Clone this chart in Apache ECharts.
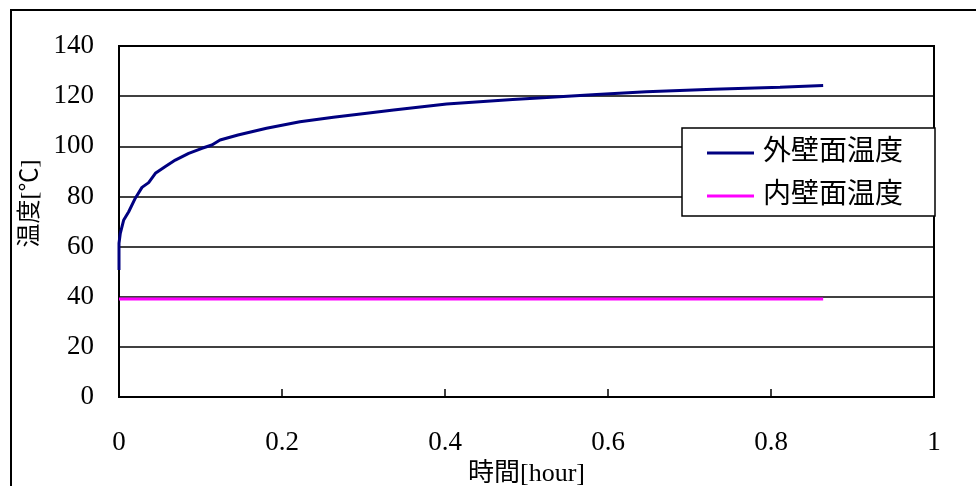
<!DOCTYPE html>
<html><head><meta charset="utf-8">
<script src="https://cdn.jsdelivr.net/npm/echarts@6/dist/echarts.min.js"></script>
<style>html,body{margin:0;padding:0;background:#fff}#c{width:976px;height:486px}</style>
</head><body><div id="c"></div>
<script>
var timeHours = [0, 0.0, 0.0016, 0.0058, 0.0119, 0.02, 0.0282, 0.0364, 0.0446, 0.0569, 0.0691, 0.0855, 0.1018, 0.114, 0.124, 0.146, 0.181, 0.222, 0.263, 0.304, 0.337, 0.402, 0.483, 0.525, 0.586, 0.647, 0.729, 0.811, 0.864];
var outerWall = [50.7, 61.3, 65.3, 70.6, 73.9, 79.3, 83.6, 85.5, 89.2, 91.9, 94.5, 97.2, 99.2, 100.5, 102.5, 104.5, 107.2, 109.8, 111.6, 113.2, 114.5, 116.9, 118.7, 119.5, 120.7, 121.8, 122.7, 123.5, 124.2];
var innerTime = [0, 0.864];
var innerWall = [39.1, 39.1];
var seriesNames = ['外壁面温度', '内壁面温度'];
var xTitle = '時間[hour]';
var yTitle = '温度[℃]';

var fam = '"Liberation Serif", "Noto Sans CJK JP", serif';
var chart = echarts.init(document.getElementById('c'));
chart.setOption({
  animation: false,
  backgroundColor: '#fff',
  textStyle: {fontFamily: fam},
  graphic: [{type: 'rect', shape: {x: 11, y: 10, width: 1100, height: 1100}, style: {fill: 'none', stroke: '#000', lineWidth: 2}, z: -1}],
  grid: {left: 119, top: 46, right: 42, bottom: 89, containLabel: false, outerBoundsMode: 'none', show: true, borderColor: '#000', borderWidth: 2, backgroundColor: 'transparent'},
  xAxis: {
    type: 'value', min: 0, max: 1, interval: 0.2,
    name: xTitle, nameLocation: 'middle', nameGap: 63,
    nameTextStyle: {color: '#000', fontSize: 26, fontFamily: fam},
    axisLine: {show: true, lineStyle: {color: '#000', width: 2}},
    axisTick: {show: true, inside: true, length: 8, lineStyle: {color: '#000', width: 1.5}},
    axisLabel: {color: '#000', fontSize: 27, margin: 32, fontFamily: fam},
    splitLine: {show: false}
  },
  yAxis: {
    type: 'value', min: 0, max: 140, interval: 20,
    name: yTitle, nameLocation: 'middle', nameGap: 76,
    nameTextStyle: {color: '#000', fontSize: 24, fontFamily: fam, padding: [0, 0, 0, 36]},
    axisLine: {show: true, lineStyle: {color: '#000', width: 2}},
    axisTick: {show: false},
    axisLabel: {color: '#000', fontSize: 27, margin: 25, fontFamily: fam, padding: [5, 0, 0, 0]},
    splitLine: {show: true, lineStyle: {color: '#000', width: 1.5}}
  },
  legend: {
    show: true, orient: 'vertical', left: 682, top: 128,
    backgroundColor: '#fff', borderColor: '#000', borderWidth: 1.5,
    padding: [10, 32, 5, 25], itemGap: 13, itemWidth: 47, itemHeight: 3,
    textStyle: {color: '#000', fontSize: 28, lineHeight: 30, fontFamily: fam, padding: [0, 0, 0, 4]},
    data: [{name: seriesNames[0], icon: 'rect'}, {name: seriesNames[1], icon: 'rect'}]
  },
  series: [
    {name: seriesNames[0], type: 'line', showSymbol: false, color: '#000080', lineStyle: {color: '#000080', width: 3},
     data: timeHours.map(function (t, i) { return [t, outerWall[i]]; })},
    {name: seriesNames[1], type: 'line', showSymbol: false, color: '#FF00FF', lineStyle: {color: '#FF00FF', width: 3},
     data: innerTime.map(function (t, i) { return [t, innerWall[i]]; })}
  ]
});
</script></body></html>
